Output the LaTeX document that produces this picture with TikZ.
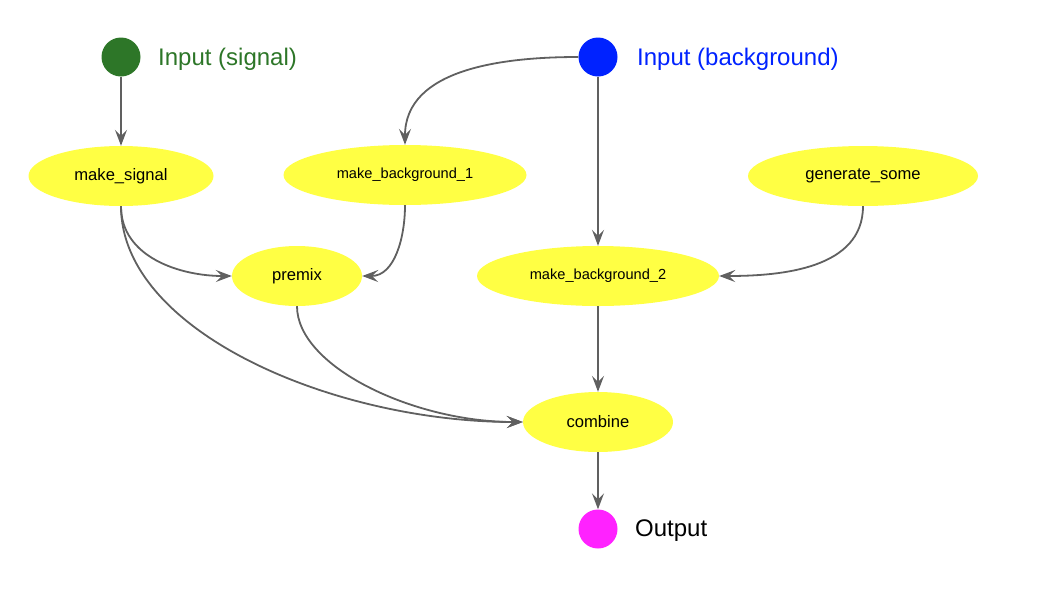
\documentclass[tikz,border=0pt]{standalone}
\usepackage{fontspec}
\setmainfont{Liberation Sans}
\usetikzlibrary{shapes.geometric,arrows.meta}
\definecolor{sigGreen}{HTML}{2D7628}
\definecolor{bgBlue}{HTML}{0022FF}
\definecolor{outMag}{HTML}{FF22FF}
\definecolor{procYellow}{HTML}{FFFF44}
\definecolor{edgeGray}{HTML}{606060}
\tikzset{
  proc/.style={ellipse, fill=procYellow, inner sep=0pt, minimum height=60pt, font=\fontsize{16.6}{19}\selectfont},
  procsmall/.style={proc, font=\fontsize{14.6}{17}\selectfont},
  port/.style={circle, inner sep=0pt, minimum size=39pt},
  portlabel/.style={anchor=west, inner sep=0pt, font=\fontsize{24}{28}\selectfont},
  edge/.style={draw=edgeGray, line width=1.8pt, -{Stealth[length=16pt,width=12pt,inset=6pt]}}
}
\begin{document}
\begin{tikzpicture}[x=1pt,y=-1pt]
\useasboundingbox (0,0) rectangle (1058,590);
\node[port, fill=sigGreen] (sig) at (121,57) {};
\node[portlabel, text=sigGreen] (sigl) at (158,59) {Input (signal)};
\node[port, fill=bgBlue] (bg) at (598,57) {};
\node[portlabel, text=bgBlue] (bgl) at (637,59) {Input (background)};
\node[port, fill=outMag] (out) at (598,529) {};
\node[portlabel, text=black] (outl) at (635,531) {Output};

\node[proc, minimum width=185pt] (ms) at (121,176) {make\_signal};
\node[procsmall, minimum width=243pt] (mb1) at (405,175) {make\_background\_1};
\node[proc, minimum width=230pt] (gs) at (863,176) {generate\_some};
\node[proc, minimum width=130pt] (pm) at (297,276) {premix};
\node[procsmall, minimum width=242pt] (mb2) at (598,276) {make\_background\_2};
\node[proc, minimum width=150pt] (cb) at (598,422) {combine};

\draw[edge] (sig) -- (ms);
\draw[edge] (bg.west) to[out=180,in=90] (mb1.north);
\draw[edge] (bg) -- (mb2);
\draw[edge] (ms.south) to[out=-90,in=180] (pm.west);
\draw[edge] (mb1.south) to[out=-90,in=0] (pm.east);
\draw[edge] (gs.south) to[out=-90,in=0] (mb2.east);
\draw[edge] (ms.south) to[out=-90,in=180,out distance=125pt,in distance=190pt] (cb.west);
\draw[edge] (pm.south) to[out=-90,in=180,out distance=60pt,in distance=110pt] (cb.west);
\draw[edge] (mb2) -- (cb);
\draw[edge] (cb) -- (out);
\end{tikzpicture}
\end{document}
